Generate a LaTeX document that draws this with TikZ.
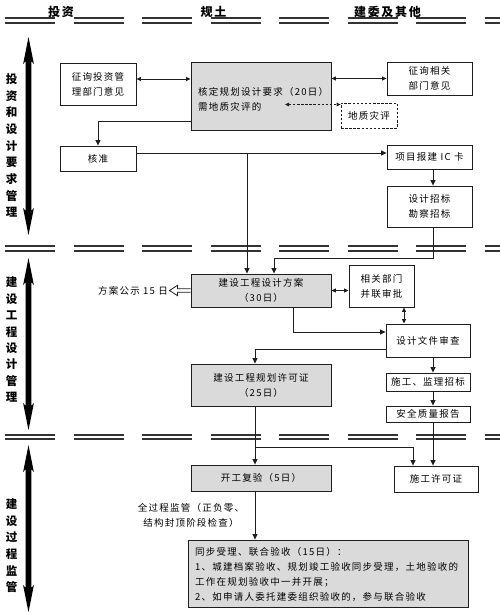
\documentclass[tikz,border=0pt]{standalone}
\usepackage{fontspec}
\setmainfont{Noto Sans CJK SC}[LetterSpace=13]
\newfontfamily\hdfont{Noto Sans CJK SC}[LetterSpace=14]
\usetikzlibrary{arrows.meta,calc}
\definecolor{boxgray}{RGB}{218,218,218}
\definecolor{lineclr}{RGB}{30,30,30}
\newcommand\sepline[1]{%
  \foreach \i in {0,...,7}{%
    \pgfmathsetmacro\xa{5+68.5*\i}%
    \pgfmathsetmacro\xb{min(\xa+50,500)}%
    \draw[sepl] (\xa,{#1-2.3}) -- (\xb,{#1-2.3}) (\xa,{#1+2.3}) -- (\xb,{#1+2.3});
  }}
\newcommand\bigvarrow[2]{%
  \fill[black] (28.5,#1) -- (23.1,{#1+27}) -- (25.7,{#1+24}) -- (25.7,{#2-24}) -- (23.1,{#2-27})
   -- (28.5,#2) -- (33.9,{#2-27}) -- (31.3,{#2-24}) -- (31.3,{#1+24}) -- (33.9,{#1+27}) -- cycle;}
\tikzset{
  sepl/.style={line width=2pt, draw=black!80},
  wbox/.style={draw=lineclr, line width=0.9pt, fill=white, inner sep=0pt, align=center,
    font=\fontsize{9.5}{15}\selectfont},
  gbox/.style={wbox, fill=boxgray},
  txt/.style={inner sep=0pt, align=left, font=\fontsize{9.5}{15}\selectfont},
  hdr/.style={inner sep=0pt, font=\hdfont\bfseries\fontsize{12}{14}\selectfont},
  vlab/.style={inner sep=0pt, font=\bfseries\fontsize{11.5}{12}\selectfont},
  conn/.style={line width=0.8pt, draw=lineclr},
  arr/.style={conn, -{Triangle[length=5.5pt,width=5pt]}},
  darr/.style={conn, {Triangle[length=4.5pt,width=4pt]}-{Triangle[length=4.5pt,width=4pt]}},
}
\begin{document}
\begin{tikzpicture}[x=1pt,y=-1pt]
\useasboundingbox[fill=white] (0,0) rectangle (500,613);

% separators
\sepline{20.5}
\sepline{248.5}
\sepline{437}

% headers
\node[hdr] (h1) at (61,11.5) {投资};
\node[hdr] (h2) at (213.5,11.5) {规土};
\node[hdr] (h3) at (387.5,11.5) {建委及其他};

% left phase arrows and labels
\bigvarrow{37}{235}
\bigvarrow{258}{430}
\bigvarrow{445}{612}
\foreach \c [count=\k from 0] in {投,资,和,设,计,要,求,管,理}
  \node[vlab] (va\k) at (11.5,{79+16.7*\k}) {\c};
\foreach \c [count=\k from 0] in {建,设,工,程,设,计,管,理}
  \node[vlab] (vb\k) at (11.5,{282.5+16.4*\k}) {\c};
\foreach \c [count=\k from 0] in {建,设,过,程,监,管}
  \node[vlab] (vc\k) at (11.5,{504+16.7*\k}) {\c};

% boxes
\node[wbox, minimum width=76pt, minimum height=42pt] (b1) at (98,84) {征询投资管\\理部门意见};
\node[gbox, minimum width=140pt, minimum height=68pt] (b2) at (261,96) {};
\node[txt, anchor=west] (b2t) at (198,99.5) {核定规划设计要求（20日）\\需地质灾评的};
\node[wbox, minimum width=85pt, minimum height=33pt] (b3) at (429.5,78.5) {征询相关\\部门意见};
\node[wbox, dash pattern=on 2.5pt off 1.6pt, line width=0.8pt, minimum width=56pt, minimum height=25pt] (b4) at (369,115.5) {地质灾评};
\node[wbox, minimum width=76pt, minimum height=25pt] (b5) at (98,158.5) {核准};
\node[wbox, minimum width=85pt, minimum height=24pt] (b6) at (429.5,157) {项目报建 IC 卡};
\node[wbox, minimum width=85pt, minimum height=41pt] (b7) at (429.5,206.5) {设计招标\\勘察招标};
\node[gbox, minimum width=140pt, minimum height=33pt] (b8) at (261,290.5) {建设工程设计方案\\（30日）};
\node[wbox, minimum width=65pt, minimum height=42pt] (b9) at (381.5,286) {相关部门\\并联审批};
\node[wbox, minimum width=84pt, minimum height=33pt] (b10) at (428,340.5) {设计文件审查};
\node[gbox, minimum width=140pt, minimum height=42pt] (b11) at (261,385) {建设工程规划许可证\\（25日）};
\node[wbox, minimum width=84pt, minimum height=18pt] (b12) at (428,382) {施工、监理招标};
\node[wbox, minimum width=84pt, minimum height=16pt] (b13) at (428,414) {安全质量报告};
\node[wbox, minimum width=84pt, minimum height=26pt] (b14) at (436,479) {施工许可证};
\node[gbox, minimum width=140pt, minimum height=26pt] (b15) at (261,478) {开工复验（5日）};
\node[gbox, minimum width=280pt, minimum height=67pt] (b16) at (328,573.5) {};
\node[txt, anchor=west] (b16t) at (195,574) {同步受理、联合验收（15日）：\\1、城建档案验收、规划竣工验收同步受理，土地验收的\\工作在规划验收中一并开展；\\2、如申请人委托建委组织验收的，参与联合验收};
\node[txt, align=center] (n1) at (191,515) {全过程监管（正负零、\\结构封顶阶段检查）};
\node[txt, anchor=east] (n2) at (168,291) {方案公示 15 日};

% helper coordinates
\coordinate (cx) at (433,0);
\coordinate (cv) at (404,0);
\coordinate (j1) at (247,153);
\coordinate (j2) at (433,258);
\coordinate (j3) at (293,332);
\coordinate (j4) at (255,349);
\coordinate (j5) at (255,447);
\coordinate (dz) at (285,104.5);

% connectors
\draw[darr] ([yshift=5pt]b1.east) -- ([yshift=5pt]b1.east -| b2.west);
\draw[darr] (b3.west -| b2.east) -- (b3.west);
\draw[conn, dash pattern=on 2.5pt off 1.6pt, {Triangle[length=4pt,width=3.5pt]}-{Triangle[length=4pt,width=3.5pt]}] (dz) -- (dz -| b4.west);
\draw[arr] ([yshift=9pt]b2.south west) -| (b5.north);
\draw[arr] (b5.east |- j1) -- (b6.west |- j1);
\draw[arr] (j1) -- (j1 |- b8.north);
\draw[arr] (b6.south -| cx) -- (b7.north -| cx);
\draw[arr] (b7.south -| j2) -- (j2) -| ([xshift=13pt]b8.north);
\draw[darr] (b8.east) -- (b8.east -| b9.west);
\draw[conn] (b8.west) ++(0,-1.8) -- ++(-13,0) -- ++(0,-3.4) -- ++(-8,5.2) -- ++(8,5.2) -- ++(0,-3.4) -- ++(13,0);
\draw[darr] (b9.south -| cv) -- (b10.north -| cv);
\draw[arr] (b8.south -| j3) -- (j3) -- (j3 -| b10.west);
\draw[arr] (j4 -| b10.west) -- (j4) -- (j4 |- b11.north);
\draw[arr] (b10.south -| cx) -- (b12.north -| cx);
\draw[arr] (b12.south -| cx) -- (b13.north -| cx);
\draw[arr] (b13.south -| cx) -- (b14.north -| cx);
\draw[arr] (b11.south -| j4) -- (b15.north -| j4);
\draw[arr] (j5) -| ([xshift=-23pt]b14.north);
\draw[arr] (b15.south -| j4) -- (b16.north -| j4);
\end{tikzpicture}
\end{document}
